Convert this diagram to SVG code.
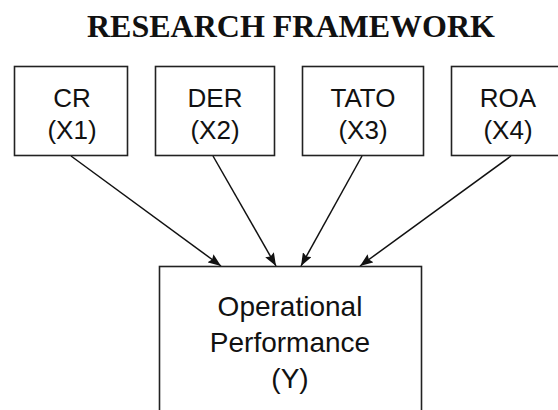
<svg xmlns="http://www.w3.org/2000/svg" width="558" height="410" viewBox="0 0 558 410">
<style>
.box{fill:#fff;stroke:#222;stroke-width:1.6}
.t{font-family:"Liberation Sans",Arial,sans-serif;fill:#111;text-anchor:middle}
.s{font-size:26px}
.b{font-size:28px}
.title{font-family:"Liberation Serif","Times New Roman",serif;font-weight:bold;font-size:32px;fill:#111;text-anchor:middle}
.c{stroke:#111;stroke-width:1.5;fill:none;marker-end:url(#ah)}
</style>
<defs>
<marker id="ah" viewBox="0 0 13 10" refX="13" refY="5" markerWidth="13" markerHeight="10" markerUnits="userSpaceOnUse" orient="auto">
<path d="M0,0 L13,5 L0,10 L2,5 Z" fill="#111"/>
</marker>
</defs>
<rect width="558" height="410" fill="#fff"/>
<text class="title" x="291" y="37">RESEARCH FRAMEWORK</text>
<g id="connectors">
<line class="c" x1="71" y1="156" x2="221" y2="266"/>
<line class="c" x1="213" y1="156" x2="276" y2="266"/>
<line class="c" x1="362" y1="156" x2="301" y2="266"/>
<line class="c" x1="511" y1="156" x2="360" y2="266"/>
</g>
<g id="cr">
<rect class="box" x="14.5" y="66.5" width="113" height="89"/>
<text class="t s" x="72" y="107">CR</text>
<text class="t s" x="72" y="139">(X1)</text>
</g>
<g id="der">
<rect class="box" x="155.5" y="66.5" width="119" height="89"/>
<text class="t s" x="215" y="107">DER</text>
<text class="t s" x="215" y="139">(X2)</text>
</g>
<g id="tato">
<rect class="box" x="302.5" y="66.5" width="121" height="89"/>
<text class="t s" x="363" y="107">TATO</text>
<text class="t s" x="363" y="139">(X3)</text>
</g>
<g id="roa">
<rect class="box" x="451.5" y="66.5" width="110" height="89"/>
<text class="t s" x="508" y="107">ROA</text>
<text class="t s" x="508" y="139">(X4)</text>
</g>
<g id="op">
<rect class="box" x="159.5" y="266.5" width="262" height="150"/>
<text class="t b" x="290" y="316">Operational</text>
<text class="t b" x="290" y="352">Performance</text>
<text class="t b" x="290" y="388">(Y)</text>
</g>
</svg>
